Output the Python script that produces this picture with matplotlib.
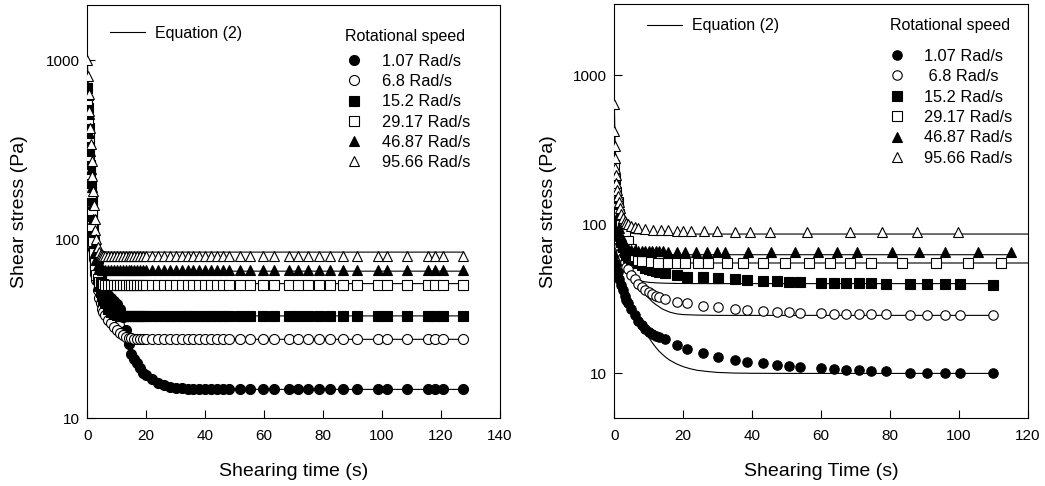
import matplotlib
matplotlib.use("Agg")
import matplotlib.pyplot as plt

plt.rcParams['font.family'] = ['Liberation Sans', 'DejaVu Sans']

speeds = ["1.07 Rad/s", "6.8 Rad/s", "15.2 Rad/s", "29.17 Rad/s", "46.87 Rad/s", "95.66 Rad/s"]
speeds_right = ["1.07 Rad/s", " 6.8 Rad/s", "15.2 Rad/s", "29.17 Rad/s", "46.87 Rad/s", "95.66 Rad/s"]

# ---------------- left panel data (shared time axis) ----------------
t_left = [0, 0.25, 0.5, 0.75, 1.0, 1.25, 1.5, 1.75, 2.0, 2.25, 2.5, 2.75, 3.0,
          3.5, 4.0, 4.5, 5.0, 5.5, 6.0,
          7, 8, 9, 10, 11, 12, 13, 14, 15, 16, 17, 18, 19, 20,
          22, 24, 26, 28, 30, 32, 34, 36, 38, 40, 42, 44, 46, 48,
          51.8, 55.2, 59.7, 63.3, 68.3, 71.6, 75.0, 78.6, 82.3, 86.9, 91.6,
          98.7, 101.6, 108.3, 115.5, 118.0, 120.6, 127.6]

left_107 = [200, 185, 170, 157, 145, 134, 124, 115, 107, 100, 94, 88, 83,
            75, 68, 62, 58, 55, 52,
            49, 47, 45, 43.5, 41, 37, 31, 26, 23, 21.5, 20.3, 19, 18, 17.5,
            16.5, 15.8, 15.3, 15.0, 14.8, 14.7, 14.6, 14.6, 14.5, 14.5, 14.5, 14.5, 14.5, 14.5,
            14.5, 14.5, 14.5, 14.5, 14.5, 14.5, 14.5, 14.5, 14.5, 14.5, 14.5,
            14.5, 14.5, 14.5, 14.5, 14.5, 14.5, 14.5]
left_68 = [370, 300, 245, 200, 165, 138, 117, 100, 88, 78, 70, 64, 59,
           52, 47, 44, 41, 39, 37.5,
           35.5, 34, 32.5, 31, 30, 29.2, 28.6, 28.2, 27.9, 27.8, 27.7, 27.6, 27.6, 27.6,
           27.6, 27.6, 27.6, 27.6, 27.6, 27.6, 27.6, 27.6, 27.6, 27.6, 27.6, 27.6, 27.6, 27.6,
           27.6, 27.6, 27.6, 27.6, 27.6, 27.6, 27.6, 27.6, 27.6, 27.6, 27.6,
           27.6, 27.6, 27.6, 27.6, 27.6, 27.6, 27.6]
left_152 = [700, 540, 420, 330, 260, 205, 165, 135, 112, 95, 83, 74, 67,
            60, 55, 51, 48, 46, 44,
            41, 39, 38, 37.5, 37.3, 37.2, 37.2, 37.2, 37.2, 37.2, 37.2, 37.2, 37.2, 37.2,
            37.2, 37.2, 37.2, 37.2, 37.2, 37.2, 37.2, 37.2, 37.2, 37.2, 37.2, 37.2, 37.2, 37.2,
            37.2, 37.2, 37.2, 37.2, 37.2, 37.2, 37.2, 37.2, 37.2, 37.2, 37.2,
            37.2, 37.2, 37.2, 37.2, 37.2, 37.2, 37.2]
left_2917 = [600, 470, 370, 290, 230, 182, 146, 118, 98, 84, 74, 67, 63,
             60, 58, 57, 56.5, 56, 55.8,
             55.6, 55.6, 55.6, 55.6, 55.6, 55.6, 55.6, 55.6, 55.6, 55.6, 55.6, 55.6, 55.6, 55.6,
             55.6, 55.6, 55.6, 55.6, 55.6, 55.6, 55.6, 55.6, 55.6, 55.6, 55.6, 55.6, 55.6, 55.6,
             55.6, 55.6, 55.6, 55.6, 55.6, 55.6, 55.6, 55.6, 55.6, 55.6, 55.6,
             55.6, 55.6, 55.6, 55.6, 55.6, 55.6, 55.6]
left_4687 = [820, 640, 500, 390, 310, 245, 195, 158, 130, 110, 95, 85, 78,
             72, 69, 68, 67.5, 67, 67,
             67, 67, 67, 67, 67, 67, 67, 67, 67, 67, 67, 67, 67, 67,
             67, 67, 67, 67, 67, 67, 67, 67, 67, 67, 67, 67, 67, 67,
             67, 67, 67, 67, 67, 67, 67, 67, 67, 67, 67,
             67, 67, 67, 67, 67, 67, 67]
left_9566 = [1000, 810, 650, 520, 420, 340, 275, 225, 185, 155, 130, 112, 100,
             90, 85, 83, 82, 81, 80.5,
             80.4, 80.4, 80.4, 80.4, 80.4, 80.4, 80.4, 80.4, 80.4, 80.4, 80.4, 80.4, 80.4, 80.4,
             80.4, 80.4, 80.4, 80.4, 80.4, 80.4, 80.4, 80.4, 80.4, 80.4, 80.4, 80.4, 80.4, 80.4,
             80.4, 80.4, 80.4, 80.4, 80.4, 80.4, 80.4, 80.4, 80.4, 80.4, 80.4,
             80.4, 80.4, 80.4, 80.4, 80.4, 80.4, 80.4]

# Equation (2) curves, left panel
tf_left = [0, 0.5, 1, 1.5, 2, 2.5, 3, 4, 5, 6, 8, 10, 12, 14, 16, 18, 20, 25, 30, 40, 127.6]
fit_left_107 = [200, 170, 145, 124, 107, 94, 83, 68, 58, 52, 47, 43, 37, 26, 21.5, 19, 17.5, 15.5, 14.8, 14.5, 14.5]
fit_left_68 = [370, 245, 165, 117, 88, 70, 59, 47, 41, 37.5, 34, 31, 29.2, 28.2, 27.8, 27.6, 27.6, 27.6, 27.6, 27.6, 27.6]
fit_left_152 = [700, 420, 260, 165, 112, 83, 67, 55, 48, 44, 39, 37.5, 37.3, 37.3, 37.3, 37.3, 37.3, 37.3, 37.3, 37.3, 37.3]
fit_left_2917 = [600, 370, 230, 146, 98, 74, 63, 58, 57, 56.5, 56.5, 56.5, 56.5, 56.5, 56.5, 56.5, 56.5, 56.5, 56.5, 56.5, 56.5]
fit_left_4687 = [820, 500, 310, 195, 130, 95, 78, 70, 67, 66.5, 66.3, 66.3, 66.3, 66.3, 66.3, 66.3, 66.3, 66.3, 66.3, 66.3, 66.3]
fit_left_9566 = [1000, 650, 420, 275, 185, 130, 100, 89, 86, 85, 84.7, 84.7, 84.7, 84.7, 84.7, 84.7, 84.7, 84.7, 84.7, 84.7, 84.7]

# ---------------- right panel data ----------------
t_right_a = [0, 0.5, 1, 1.5, 2, 2.5, 3, 3.5, 4, 5, 6, 7, 8, 9, 10, 11, 12, 13,
             14.7, 18.1, 21.2, 25.8, 30.1, 35.0, 38.6, 43.2, 47.1, 50.7, 54.0,
             60.1, 63.8, 67.3, 71.0, 74.6, 78.7, 85.9, 90.8, 95.8, 100.2, 109.9]
right_107 = [62, 54, 48, 43, 39, 36, 33, 31, 29.5, 27, 24.5, 22.5, 21, 19.8, 18.9, 18.4, 17.9, 17.5,
             17.0, 15.5, 14.6, 13.6, 12.8, 12.3, 12.0, 11.7, 11.4, 11.2, 11.1,
             10.9, 10.7, 10.6, 10.5, 10.4, 10.3, 10.1, 10.0, 10.0, 10.0, 10.0]
right_68 = [125, 100, 82, 72, 65, 60, 56, 52, 50, 46, 43, 40, 38, 36.2, 35, 34, 33.2, 32.5,
            31.5, 30.3, 29.5, 28.5, 27.7, 27.0, 26.7, 26.3, 26.0, 25.9, 25.6,
            25.4, 25.2, 25.2, 25.0, 25.0, 25.0, 24.8, 24.8, 24.7, 24.7, 24.6]
right_152 = [200, 130, 100, 85, 76, 70, 65, 62, 60, 58.5, 57.5, 55, 53, 51.3, 50, 49.2, 48.6, 48,
             47, 45.7, 44.5, 44.0, 43.6, 42.9, 42.5, 41.8, 41.4, 41.2, 40.8,
             40.4, 40.1, 40.1, 40.1, 40.1, 40.0, 39.7, 39.7, 39.5, 39.5, 39.3]

t_right_2917 = [0, 0.3, 0.6, 1.0, 1.5, 2.0, 2.5, 3.1, 4.1, 5.0, 6.0, 7.0, 8.1, 10.6,
                12.8, 15.5, 18.1, 20.5, 24.3, 27.1, 32.6, 37.4, 43.2, 49.5, 56.5, 62.5,
                68.5, 74.6, 83.6, 93.2, 102.6, 112.3]
right_2917 = [250, 200, 165, 140, 118, 102, 94, 88, 77.5, 68, 61, 58, 57, 55.6,
              55.2, 55, 55, 55, 55, 55, 55, 55, 55, 55, 55, 55,
              55, 55, 55, 55, 55, 55]

t_right_4687 = [0, 0.3, 0.6, 1.0, 1.5, 2.0, 2.5, 3.0, 3.5, 4.0, 5.0, 6.0, 7.0, 8.0, 9.0,
                10.0, 11.0, 12.0, 13.0, 14.0, 15.7, 18.1, 20.5, 23.6, 26.8, 29.7, 32.1,
                38.8, 45.6, 52.4, 59.1, 64.6, 70.4, 80.7, 88.4, 95.8, 105.5, 115.2]
right_4687 = [280, 200, 150, 115, 95, 84, 77, 73, 70, 68.5, 67.5, 67, 66.5, 66, 66,
              66, 66, 66, 66, 66, 65.5, 65.5, 65.5, 65.5, 65.5, 65.5, 65.5,
              65.5, 65.5, 65.5, 65.5, 65.5, 65.5, 65.5, 65.5, 65.5, 65.5, 65.5]

t_right_9566 = [0, 0.05, 0.1, 0.15, 0.25, 0.4, 0.6, 0.8, 1.0, 1.3, 1.6, 2.0, 2.5, 3.0, 3.5,
                4.0, 5.0, 6.0, 7.0, 8.9, 11.3, 13.5, 15.7, 18.1, 20.0, 22.4, 26.0, 29.7,
                35.0, 39.5, 45.3, 55.9, 68.5, 77.7, 87.8, 99.7]
right_9566 = [640, 424, 336, 280, 240, 215, 190, 170, 155, 140, 128, 118, 110, 105, 102,
              100, 98, 96, 95, 93, 92, 91.5, 91, 90.5, 90, 90, 89.5, 89.5,
              89, 89, 88.5, 88.5, 88.5, 88.5, 88.5, 88.5]

# Equation (2) curves, right panel
tf_r_107 = [0, 1, 2, 3, 4, 5, 6, 7, 8, 9, 10, 11, 12, 13, 14, 15, 16, 18, 20, 22, 24, 27, 30, 35, 40, 50, 109.9]
fit_r_107 = [62, 48, 40, 34.5, 30.5, 27.5, 25, 22.8, 20.8, 19, 17.4, 16.1, 15.0, 14.1, 13.4, 12.8, 12.3,
             11.6, 11.1, 10.75, 10.5, 10.3, 10.15, 10.05, 10.02, 10.0, 10.0]
tf_r_68 = [0, 1, 2, 3, 4, 5, 6, 7, 8, 9, 10, 11, 12, 13, 14, 16, 18, 20, 24, 30, 40, 109.9]
fit_r_68 = [125, 65, 54, 49, 46, 43.5, 41, 38.5, 36, 34, 32, 30.3, 29, 28, 27, 25.8, 25.1, 24.8, 24.6, 24.5, 24.5, 24.5]
tf_r_152 = [0, 0.5, 1, 2, 3, 4, 5, 6, 7, 8, 10, 12, 14, 18, 25, 40, 109.9]
fit_r_152 = [200, 140, 110, 75, 58, 50, 46, 43.5, 42.2, 41.5, 40.8, 40.5, 40.3, 40.1, 40.0, 40.0, 40.0]
tf_r_2917 = [0, 0.5, 1, 2, 3, 4, 5, 6, 8, 10, 14, 20, 120]
fit_r_2917 = [250, 170, 130, 95, 80, 70, 63, 59, 56.5, 55.5, 55.1, 55, 55]
tf_r_4687 = [0, 0.3, 0.6, 1, 1.5, 2, 3, 4, 5, 7, 10, 115.2]
fit_r_4687 = [300, 200, 140, 100, 80, 71, 65.5, 63.5, 63, 62.5, 62.5, 62.5]
tf_r_9566 = [0, 0.1, 0.2, 0.4, 0.7, 1, 1.5, 2, 3, 4, 6, 8, 120]
fit_r_9566 = [700, 520, 400, 280, 190, 145, 112, 98, 90, 88, 86.5, 86, 86]

styles = [("o", "black"), ("o", "white"), ("s", "black"),
          ("s", "white"), ("^", "black"), ("^", "white")]

fig = plt.figure(figsize=(10.45, 4.86), dpi=100)
ax1 = fig.add_axes([0.0835, 0.1393, 0.3950, 0.8504])
ax2 = fig.add_axes([0.5878, 0.1393, 0.3959, 0.8525])


def style_axes(ax, xmax, ylim, xlabel, ylpad):
    ax.set_yscale("log")
    ax.set_xlim(0, xmax)
    ax.set_ylim(*ylim)
    ax.set_xticks(range(0, xmax + 1, 20))
    ax.set_yticks([10, 100, 1000])
    ax.set_yticklabels(["10", "100", "1000"])
    ax.minorticks_off()
    ax.tick_params(direction="in", length=6, width=0.8, labelsize=11, pad=5)
    ax.tick_params(axis="x", pad=8)
    for s in ax.spines.values():
        s.set_linewidth(0.8)
    ax.set_xlabel(xlabel, fontsize=14, labelpad=14)
    ax.set_ylabel("Shear stress (Pa)", fontsize=14, labelpad=ylpad)


def draw_panel(ax, fits, series, labels, ms, leg_pos):
    fit_handle = None
    for tf, yf in fits:
        fit_handle, = ax.plot(tf, yf, color="black", lw=0.8, zorder=2)
    handles = []
    for (t, y), (mk, fc) in zip(series, styles):
        h, = ax.plot(t, y, linestyle="none", marker=mk, markersize=ms,
                     markerfacecolor=fc, markeredgecolor="black",
                     markeredgewidth=0.8, zorder=3)
        handles.append(h)
    (ex, ey), (tx, ty), (lx, ly), hl, tp, ls = leg_pos
    leg1 = ax.legend([fit_handle], ["Equation (2)"], loc="center left",
                     bbox_to_anchor=(ex, ey), frameon=False, fontsize=11.5,
                     handlelength=2.2, handletextpad=0.6, borderpad=0,
                     borderaxespad=0)
    ax.add_artist(leg1)
    ax.text(tx, ty, "Rotational speed", transform=ax.transAxes, fontsize=11.5,
            ha="left", va="center")
    ax.legend(handles, labels, loc="upper left", bbox_to_anchor=(lx, ly),
              frameon=False, fontsize=11.8, handlelength=hl, handletextpad=tp,
              labelspacing=ls, borderpad=0, borderaxespad=0)


style_axes(ax1, 140, (10, 2030), "Shearing time (s)", 13)
draw_panel(ax1,
           [(tf_left, fit_left_107), (tf_left, fit_left_68), (tf_left, fit_left_152),
            (tf_left, fit_left_2917), (tf_left, fit_left_4687), (tf_left, fit_left_9566)],
           [(t_left, left_107), (t_left, left_68), (t_left, left_152),
            (t_left, left_2917), (t_left, left_4687), (t_left, left_9566)],
           speeds, 7.2,
           ((0.055, 0.932), (0.624, 0.925), (0.6245, 0.882), 1.1, 1.15, 0.32))

style_axes(ax2, 120, (5, 3000), "Shearing Time (s)", 12)
draw_panel(ax2,
           [(tf_r_107, fit_r_107), (tf_r_68, fit_r_68), (tf_r_152, fit_r_152),
            (tf_r_2917, fit_r_2917), (tf_r_4687, fit_r_4687), (tf_r_9566, fit_r_9566)],
           [(t_right_a, right_107), (t_right_a, right_68), (t_right_a, right_152),
            (t_right_2917, right_2917), (t_right_4687, right_4687), (t_right_9566, right_9566)],
           speeds_right, 6.8,
           ((0.079, 0.947), (0.666, 0.947), (0.6655, 0.892), 0.9, 1.2, 0.33))

fig.savefig("out.png", dpi=100)
